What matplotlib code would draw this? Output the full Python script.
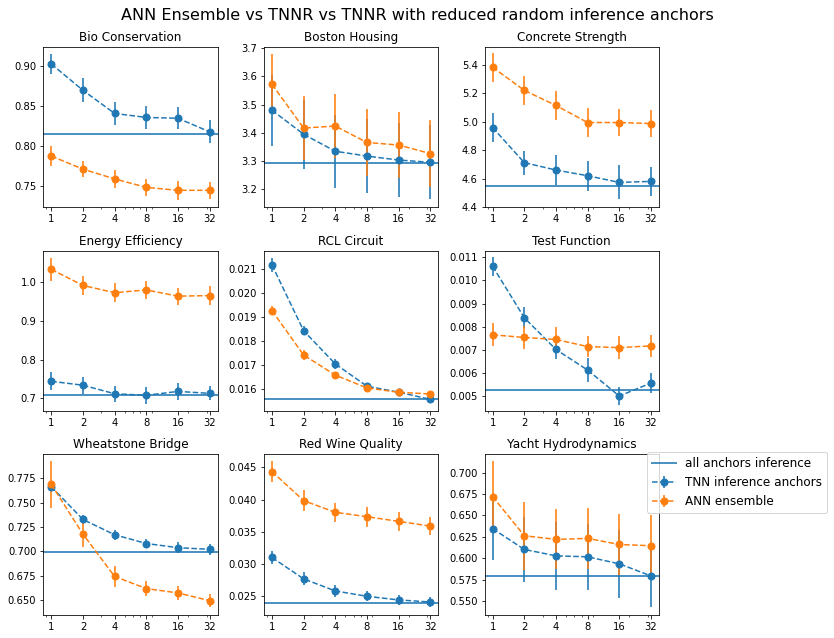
"""
ANN ensemble vs TNNR vs TNNR with reduced random inference anchors
3x3 grid of error-bar panels, log x axis (number of anchors).
"""

import matplotlib
matplotlib.use("Agg")
import matplotlib.pyplot as plt
from matplotlib.ticker import NullFormatter

# number of inference anchors
anchors = [1, 2, 4, 8, 16, 32]
anchor_labels = ["1", "2", "4", "8", "16", "32"]

datasets = [
    "Bio Conservation", "Boston Housing", "Concrete Strength",
    "Energy Efficiency", "RCL Circuit", "Test Function",
    "Wheatstone Bridge", "Red Wine Quality", "Yacht Hydrodynamics",
]

# TNNR with all anchors used at inference
all_anchors = [0.815, 3.292, 4.548, 0.7095, 0.01558, 0.00529, 0.699, 0.02396, 0.5797]

# TNNR with reduced random inference anchors
tnn_mean = [
    [0.903, 0.870, 0.841, 0.836, 0.835, 0.818],
    [3.480, 3.395, 3.335, 3.318, 3.304, 3.296],
    [4.960, 4.713, 4.661, 4.621, 4.574, 4.581],
    [0.744, 0.734, 0.712, 0.708, 0.718, 0.713],
    [0.02117, 0.01842, 0.01703, 0.01610, 0.01585, 0.01555],
    [0.01061, 0.00839, 0.00702, 0.00613, 0.00501, 0.00557],
    [0.7664, 0.7327, 0.7170, 0.7080, 0.7037, 0.7020],
    [0.03099, 0.02766, 0.02578, 0.02495, 0.02438, 0.02406],
    [0.6344, 0.6102, 0.6027, 0.6016, 0.5934, 0.5793],
]
tnn_err = [
    [0.013, 0.015, 0.014, 0.014, 0.014, 0.0145],
    [0.126, 0.122, 0.129, 0.132, 0.130, 0.131],
    [0.103, 0.085, 0.105, 0.107, 0.120, 0.102],
    [0.023, 0.022, 0.021, 0.022, 0.022, 0.018],
    [0.0003, 0.0002, 0.0002, 0.00015, 0.00012, 0.00015],
    [0.00042, 0.00045, 0.00042, 0.0005, 0.00037, 0.00045],
    [0.003, 0.005, 0.005, 0.005, 0.0057, 0.006],
    [0.00096, 0.001, 0.0009, 0.0008, 0.0008, 0.0008],
    [0.036, 0.0375, 0.0394, 0.0383, 0.040, 0.0367],
]

# ANN ensemble of the same size
ann_mean = [
    [0.7876, 0.7712, 0.759, 0.7484, 0.7447, 0.7447],
    [3.5715, 3.417, 3.424, 3.366, 3.357, 3.327],
    [5.384, 5.221, 5.115, 4.995, 4.995, 4.988],
    [1.032, 0.9905, 0.972, 0.979, 0.963, 0.9645],
    [0.019258, 0.017404, 0.016562, 0.016028, 0.015845, 0.015775],
    [0.007653, 0.007537, 0.00745, 0.007145, 0.0071, 0.007174],
    [0.7688, 0.7176, 0.6741, 0.6617, 0.6572, 0.6493],
    [0.044375, 0.039844, 0.03802, 0.03734, 0.03661, 0.03589],
    [0.6719, 0.6262, 0.6219, 0.6231, 0.6160, 0.6145],
]
ann_err = [
    [0.012, 0.010, 0.011, 0.011, 0.012, 0.011],
    [0.106, 0.112, 0.112, 0.117, 0.117, 0.117],
    [0.102, 0.102, 0.102, 0.099, 0.092, 0.095],
    [0.030, 0.025, 0.025, 0.024, 0.022, 0.024],
    [0.0002, 0.0002, 0.00015, 0.0001, 0.0001, 0.0001],
    [0.0005, 0.00049, 0.00052, 0.00045, 0.00048, 0.00049],
    [0.024, 0.0134, 0.0103, 0.0076, 0.007, 0.007],
    [0.0016, 0.00164, 0.00146, 0.00156, 0.00143, 0.00138],
    [0.0414, 0.0395, 0.035, 0.036, 0.036, 0.0355],
]

# y ranges as shown in the original panels
y_limits = [
    (0.7236, 0.9248), (3.1376, 3.7047), (4.400, 5.529),
    (0.6674, 1.0804), (0.015059, 0.021772), (0.00436, 0.01129),
    (0.6345, 0.7995), (0.02203, 0.04703), (0.5336, 0.7211),
]

fig, axes = plt.subplots(3, 3, figsize=(834 / 72, 638 / 72), dpi=72)
fig.subplots_adjust(left=0.052, right=0.790, top=0.927, bottom=0.036,
                    wspace=0.267, hspace=0.27)

for i, ax in enumerate(axes.flat):
    ax.axhline(all_anchors[i], color="C0", linewidth=2, alpha=0.8,
               label="all anchors inference")
    eb = ax.errorbar(anchors, tnn_mean[i], yerr=tnn_err[i], fmt="o--", color="C0",
                     elinewidth=2, markersize=7, label="TNN inference anchors")
    eb[2][0].set_alpha(0.8)
    eb = ax.errorbar(anchors, ann_mean[i], yerr=ann_err[i], fmt="o--", color="C1",
                     elinewidth=2, markersize=7, label="ANN ensemble")
    eb[2][0].set_alpha(0.8)
    ax.set_xscale("log")
    ax.set_xticks(anchors)
    ax.set_xticklabels(anchor_labels)
    ax.xaxis.set_minor_formatter(NullFormatter())
    ax.set_ylim(*y_limits[i])
    ax.set_title(datasets[i], fontsize=12)
    ax.tick_params(labelsize=10)

handles, labels = axes[2, 2].get_legend_handles_labels()
fig.legend(handles, labels, loc="upper left", bbox_to_anchor=(647 / 834, 1 - 452 / 638),
           borderaxespad=0, fontsize=12)

fig.suptitle("ANN Ensemble vs TNNR vs TNNR with reduced random inference anchors",
             fontsize=16, y=0.988)

plt.savefig("out.png", dpi=72, facecolor="white")
plt.close()
